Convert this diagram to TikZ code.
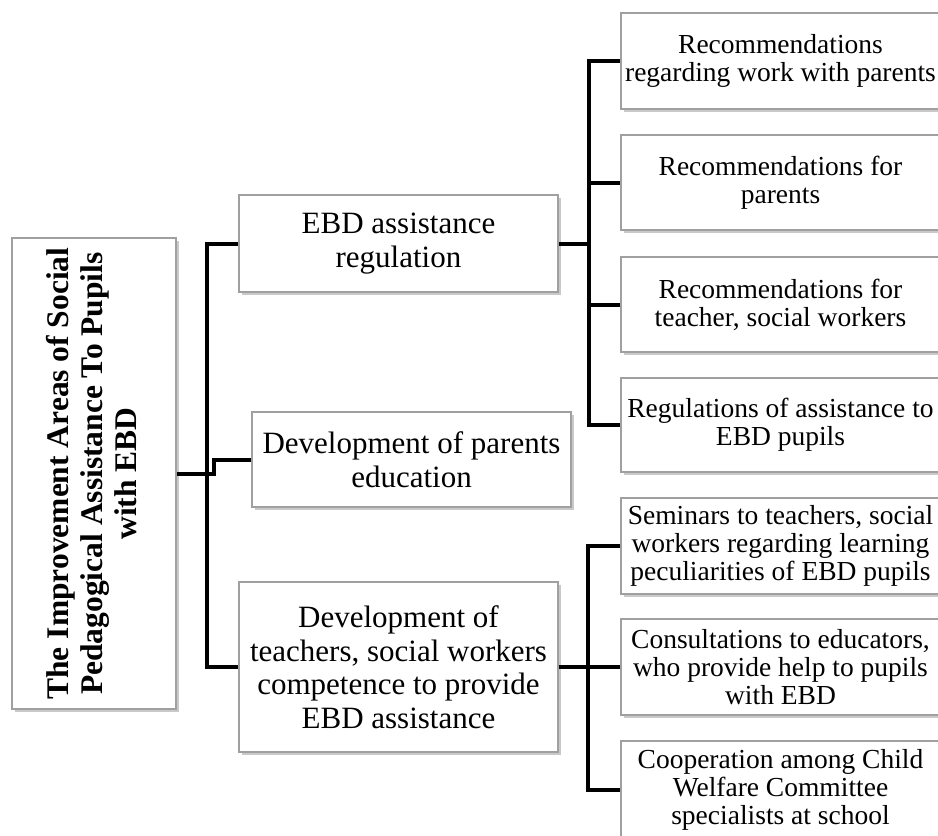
\documentclass[tikz,border=0pt]{standalone}
\usepackage{fontspec}
\setmainfont{Liberation Serif}
\usepackage{graphicx}
\usetikzlibrary{shadows,calc}
\definecolor{boxgray}{HTML}{A0A0A0}
\begin{document}
\begin{tikzpicture}[x=1pt,y=-1pt,
  box/.style={draw=boxgray, line width=1.2pt, fill=white, inner sep=0pt,
     drop shadow={shadow xshift=2.5pt, shadow yshift=-2.5pt, opacity=0.35, fill=black!60}},
  midbox/.style={box, align=center, minimum width=319pt, font=\fontsize{31}{33.5}\selectfont},
  rbox/.style={box, align=center, minimum width=319pt, font=\fontsize{27.5}{28}\selectfont},
  link/.style={line width=4pt, black}]
\fill[white] (0,0) rectangle (938,836);
\clip (0,0) rectangle (938,836);

% title
\node[box, minimum width=164pt, minimum height=471pt] (title) at (94,473.5) {};
\node[inner sep=0pt] (titletext) at ([xshift=-2.5pt]title.center)
  {\rotatebox{90}{\parbox{462pt}{\centering\bfseries\fontsize{31.5}{34}\selectfont The Improvement Areas of Social\\Pedagogical Assistance To Pupils\\with EBD}}};

% middle level
\node[midbox, minimum height=97pt] (ebd) at (398.5,243.5) {EBD assistance\\regulation};
\node[midbox, minimum height=95pt] (par) at (411.5,459.5) {Development of parents\\education};
\node[midbox, minimum height=170pt] (dev) at (398.5,667) {Development of\\teachers, social workers\\competence to provide\\EBD assistance};

% right level
\node[rbox, minimum height=96pt] (r1) at (780.5,61) {Recommendations\\regarding work with parents};
\node[rbox, minimum height=95pt] (r2) at (780.5,182.5) {Recommendations for\\parents};
\node[rbox, minimum height=95pt] (r3) at (780.5,304.5) {Recommendations for\\teacher, social workers};
\node[rbox, minimum height=94pt] (r4) at (780.5,425) {Regulations of assistance to\\EBD pupils};
\node[rbox, minimum height=96pt] (r5) at (780.5,546) {Seminars to teachers, social\\workers regarding learning\\peculiarities of EBD pupils};
\node[rbox, minimum height=96pt] (r6) at (780.5,667) {Consultations to educators,\\who provide help to pupils\\with EBD};
\node[rbox, minimum height=97pt] (r7) at (780.5,789.5) {Cooperation among Child\\Welfare Committee\\specialists at school};

% trunk coordinates
\coordinate (lt) at (207,0);
\coordinate (ut) at (589,0);
\coordinate (bt) at (588,0);

% left connectors
\draw[link] (ebd.west) -| (lt |- dev.west) -- (dev.west);
\draw[link] (title.east) -| ([xshift=-37pt]par.west) -- (par.west);

% upper right connectors
\draw[link] (r1.west) -| (ut |- r4.west) -- (r4.west);
\draw[link] (ebd.east) -- (ebd.east -| ut);
\draw[link] (r2.west) -- (r2.west -| ut);
\draw[link] (r3.west) -- (r3.west -| ut);

% lower right connectors
\draw[link] (r5.west) -| (bt |- r7.west) -- (r7.west);
\draw[link] (dev.east) -- (dev.east -| bt);
\draw[link] (r6.west) -- (r6.west -| bt);
\end{tikzpicture}
\end{document}
